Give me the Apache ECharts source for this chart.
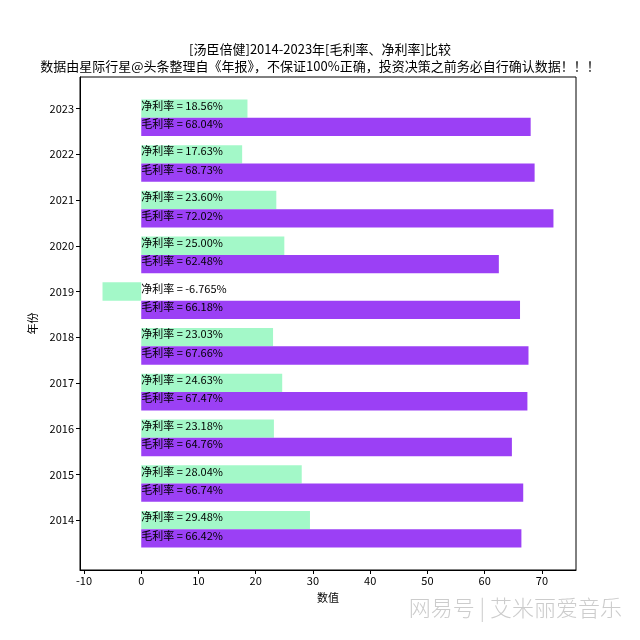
<!DOCTYPE html>
<html><head><meta charset="utf-8">
<script src="https://cdn.jsdelivr.net/npm/echarts@6/dist/echarts.min.js"></script>
<style>html,body{margin:0;padding:0;background:#fff}#c{width:640px;height:640px}</style>
</head><body><div id="c"></div>
<script>
const years = [2014, 2015, 2016, 2017, 2018, 2019, 2020, 2021, 2022, 2023];
const grossMargin = [66.42, 66.74, 64.76, 67.47, 67.66, 66.18, 62.48, 72.02, 68.73, 68.04];
const netMargin = [29.48, 28.04, 23.18, 24.63, 23.03, -6.765, 25.00, 23.60, 17.63, 18.56];
const xTicks = [-10, 0, 10, 20, 30, 40, 50, 60, 70];
const titleLine1 = '[汤臣倍健]2014-2023年[毛利率、净利率]比较';
const titleLine2 = '数据由星际行星@头条整理自《年报》，不保证100%正确，投资决策之前务必自行确认数据！！！';

const FONT = '"Noto Sans CJK SC", "DejaVu Sans", sans-serif';
function fmt(v) {
  const s = String(v);
  const d = (s.split('.')[1] || '').length;
  return v.toFixed(Math.max(2, d));
}
function makeSeries(name, values, offset, color) {
  return {
    type: 'custom', name: name,
    data: years.map((y, i) => [y + offset, values[i]]),
    encode: { y: 0, x: 1 },
    clip: false,
    renderItem: function (params, api) {
      const yc = api.value(0), v = api.value(1);
      const p0 = api.coord([0, yc + 0.2]);
      const p1 = api.coord([v, yc - 0.2]);
      const pl = api.coord([0, yc]);
      return {
        type: 'group',
        children: [
          { type: 'rect', shape: { x: Math.min(p0[0], p1[0]), y: p0[1], width: Math.abs(p1[0] - p0[0]), height: p1[1] - p0[1] },
            style: { fill: color } },
          { type: 'text', z2: 10, style: { text: name + ' = ' + fmt(v) + '%', x: pl[0], y: pl[1] - 3,
            align: 'left', verticalAlign: 'middle', fill: '#000', fontSize: 11, fontFamily: FONT } }
        ]
      };
    }
  };
}
const chart = echarts.init(document.getElementById('c'));
chart.setOption({
  backgroundColor: '#fff',
  animation: false,
  title: { text: titleLine1 + '\n' + titleLine2, left: 'center', top: 36,
    textStyle: { fontSize: 13, fontWeight: 'normal', color: '#000', fontFamily: FONT, lineHeight: 17 } },
  grid: { left: 80, right: 64, top: 77, bottom: 70, show: true, borderColor: '#000', borderWidth: 1, backgroundColor: 'transparent' },
  xAxis: {
    type: 'value', min: -10.70, max: 75.96,
    name: '数值', nameLocation: 'middle', nameGap: 22,
    nameTextStyle: { fontSize: 11, color: '#000', fontFamily: FONT },
    axisLine: { show: true, onZero: false, lineStyle: { color: '#000' } },
    axisTick: { show: true, length: 4, customValues: xTicks, lineStyle: { color: '#000' } },
    axisLabel: { customValues: xTicks, formatter: v => String(v), fontSize: 11, color: '#000', fontFamily: FONT, margin: 5 },
    splitLine: { show: false }
  },
  yAxis: {
    type: 'value', min: 2012.91, max: 2023.69,
    name: '年份', nameLocation: 'middle', nameGap: 42, nameRotate: 90,
    nameTextStyle: { fontSize: 11, color: '#000', fontFamily: FONT },
    axisLine: { show: true, onZero: false, lineStyle: { color: '#000' } },
    axisTick: { show: true, length: 4, customValues: years, lineStyle: { color: '#000' } },
    axisLabel: { customValues: years, formatter: v => String(v), fontSize: 11, color: '#000', fontFamily: FONT, margin: 6 },
    splitLine: { show: false }
  },
  graphic: [
    { type: 'text', right: 18, top: 597, style: { text: '网易号 | 艾米丽爱音乐', fill: '#cccccc', fontSize: 22, fontWeight: 300, fontFamily: FONT } }
  ],
  series: [
    makeSeries('净利率', netMargin, 0, '#a3f8c8'),
    makeSeries('毛利率', grossMargin, -0.4, '#9b40f5')
  ]
});
</script></body></html>
